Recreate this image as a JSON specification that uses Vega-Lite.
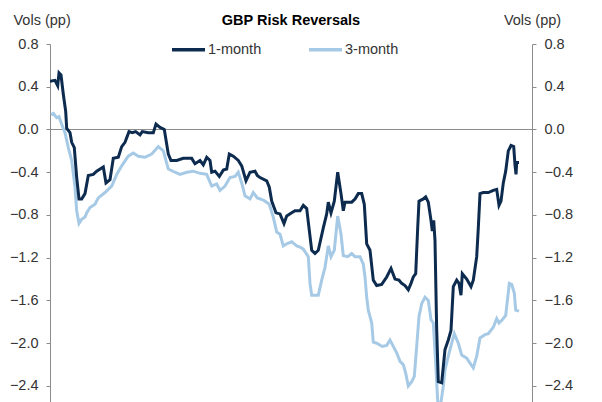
{
  "$schema": "https://vega.github.io/schema/vega-lite/v6.json",
  "autosize": {"type": "none"},
  "width": 482,
  "height": 358,
  "padding": {"left": 50, "top": 44, "right": 70, "bottom": 0},
  "background": "white",
  "title": {
    "text": "GBP Risk Reversals",
    "frame": "group",
    "anchor": "middle",
    "font": "Liberation Sans",
    "fontSize": 14.5,
    "fontWeight": "bold",
    "color": "#000000",
    "baseline": "middle",
    "offset": 0,
    "dy": 23
  },
  "config": {
    "font": "Liberation Sans",
    "view": {"stroke": null},
    "axis": {
      "labelFont": "Liberation Sans",
      "labelFontSize": 14.5,
      "labelColor": "#333333",
      "domainColor": "#8c8c8c",
      "tickColor": "#8c8c8c",
      "tickSize": 4,
      "labelPadding": 8,
      "grid": false,
      "titleFont": "Liberation Sans",
      "titleFontSize": 14.5,
      "titleFontWeight": "normal",
      "titleColor": "#333333",
      "titleAngle": 0,
      "titleBaseline": "middle"
    }
  },
  "data": {
    "values": [
      {"t": 0, "s": "1-month", "v": 0.45}, {"t": 5, "s": "1-month", "v": 0.46}, {"t": 7.7, "s": "1-month", "v": 0.41},
      {"t": 9, "s": "1-month", "v": 0.53}, {"t": 11, "s": "1-month", "v": 0.51}, {"t": 13.3, "s": "1-month", "v": 0.33},
      {"t": 15.7, "s": "1-month", "v": 0.17}, {"t": 16.7, "s": "1-month", "v": 0.01}, {"t": 20, "s": "1-month", "v": -0.03},
      {"t": 21.7, "s": "1-month", "v": -0.12}, {"t": 24.3, "s": "1-month", "v": -0.17}, {"t": 26.7, "s": "1-month", "v": -0.45},
      {"t": 29, "s": "1-month", "v": -0.65}, {"t": 31.7, "s": "1-month", "v": -0.65}, {"t": 35, "s": "1-month", "v": -0.6},
      {"t": 38.3, "s": "1-month", "v": -0.43}, {"t": 43.3, "s": "1-month", "v": -0.42}, {"t": 46.7, "s": "1-month", "v": -0.39},
      {"t": 53.3, "s": "1-month", "v": -0.35}, {"t": 56, "s": "1-month", "v": -0.5}, {"t": 60, "s": "1-month", "v": -0.47},
      {"t": 63.3, "s": "1-month", "v": -0.27}, {"t": 68.3, "s": "1-month", "v": -0.26}, {"t": 71.7, "s": "1-month", "v": -0.16},
      {"t": 75, "s": "1-month", "v": -0.12}, {"t": 79, "s": "1-month", "v": -0.02}, {"t": 82.3, "s": "1-month", "v": -0.03},
      {"t": 85.7, "s": "1-month", "v": -0.02}, {"t": 90, "s": "1-month", "v": -0.05}, {"t": 92.3, "s": "1-month", "v": -0.02},
      {"t": 98.3, "s": "1-month", "v": -0.03}, {"t": 103.3, "s": "1-month", "v": -0.03}, {"t": 106, "s": "1-month", "v": 0.05},
      {"t": 110, "s": "1-month", "v": 0.02}, {"t": 114.3, "s": "1-month", "v": 0.0}, {"t": 118.3, "s": "1-month", "v": -0.23},
      {"t": 121, "s": "1-month", "v": -0.29}, {"t": 126.7, "s": "1-month", "v": -0.29}, {"t": 133.3, "s": "1-month", "v": -0.27},
      {"t": 141.7, "s": "1-month", "v": -0.27}, {"t": 145, "s": "1-month", "v": -0.32}, {"t": 150, "s": "1-month", "v": -0.29},
      {"t": 153.3, "s": "1-month", "v": -0.33}, {"t": 156.7, "s": "1-month", "v": -0.26}, {"t": 160, "s": "1-month", "v": -0.29},
      {"t": 161.7, "s": "1-month", "v": -0.4}, {"t": 165, "s": "1-month", "v": -0.39}, {"t": 169.3, "s": "1-month", "v": -0.44},
      {"t": 173.3, "s": "1-month", "v": -0.38}, {"t": 176.7, "s": "1-month", "v": -0.37}, {"t": 179.3, "s": "1-month", "v": -0.23},
      {"t": 183.3, "s": "1-month", "v": -0.25}, {"t": 188.3, "s": "1-month", "v": -0.29}, {"t": 191.7, "s": "1-month", "v": -0.34},
      {"t": 196, "s": "1-month", "v": -0.48}, {"t": 200, "s": "1-month", "v": -0.4}, {"t": 205, "s": "1-month", "v": -0.39},
      {"t": 207.3, "s": "1-month", "v": -0.43}, {"t": 210, "s": "1-month", "v": -0.45}, {"t": 216.7, "s": "1-month", "v": -0.48},
      {"t": 219.3, "s": "1-month", "v": -0.54}, {"t": 221.7, "s": "1-month", "v": -0.67}, {"t": 226, "s": "1-month", "v": -0.78},
      {"t": 230, "s": "1-month", "v": -0.79}, {"t": 234, "s": "1-month", "v": -0.88}, {"t": 236.7, "s": "1-month", "v": -0.81},
      {"t": 241.7, "s": "1-month", "v": -0.78}, {"t": 245, "s": "1-month", "v": -0.76}, {"t": 250, "s": "1-month", "v": -0.76},
      {"t": 253.3, "s": "1-month", "v": -0.71}, {"t": 256.7, "s": "1-month", "v": -0.74}, {"t": 259, "s": "1-month", "v": -0.92},
      {"t": 261.7, "s": "1-month", "v": -1.13}, {"t": 265, "s": "1-month", "v": -1.16}, {"t": 268.3, "s": "1-month", "v": -1.13},
      {"t": 273.3, "s": "1-month", "v": -0.92}, {"t": 276.7, "s": "1-month", "v": -0.79}, {"t": 278.3, "s": "1-month", "v": -0.68},
      {"t": 281, "s": "1-month", "v": -0.78}, {"t": 284.3, "s": "1-month", "v": -0.67}, {"t": 287.7, "s": "1-month", "v": -0.4},
      {"t": 291, "s": "1-month", "v": -0.6}, {"t": 293.3, "s": "1-month", "v": -0.76}, {"t": 295, "s": "1-month", "v": -0.68},
      {"t": 301.7, "s": "1-month", "v": -0.68}, {"t": 305, "s": "1-month", "v": -0.65}, {"t": 308.3, "s": "1-month", "v": -0.6},
      {"t": 311.7, "s": "1-month", "v": -0.6}, {"t": 314.3, "s": "1-month", "v": -0.7}, {"t": 316.7, "s": "1-month", "v": -1.07},
      {"t": 320, "s": "1-month", "v": -1.13}, {"t": 323.3, "s": "1-month", "v": -1.41}, {"t": 326.7, "s": "1-month", "v": -1.46},
      {"t": 331.7, "s": "1-month", "v": -1.45}, {"t": 336.7, "s": "1-month", "v": -1.38}, {"t": 341, "s": "1-month", "v": -1.3},
      {"t": 345, "s": "1-month", "v": -1.4}, {"t": 349, "s": "1-month", "v": -1.41}, {"t": 351.7, "s": "1-month", "v": -1.44},
      {"t": 355, "s": "1-month", "v": -1.46}, {"t": 358.3, "s": "1-month", "v": -1.5}, {"t": 361, "s": "1-month", "v": -1.44},
      {"t": 363.3, "s": "1-month", "v": -1.38}, {"t": 365.7, "s": "1-month", "v": -1.35}, {"t": 367.7, "s": "1-month", "v": -0.92},
      {"t": 369, "s": "1-month", "v": -0.67}, {"t": 373.3, "s": "1-month", "v": -0.65}, {"t": 375.7, "s": "1-month", "v": -0.63},
      {"t": 378.3, "s": "1-month", "v": -0.68}, {"t": 381, "s": "1-month", "v": -0.85}, {"t": 382.3, "s": "1-month", "v": -0.95},
      {"t": 383.7, "s": "1-month", "v": -0.85}, {"t": 385, "s": "1-month", "v": -1.04}, {"t": 386.7, "s": "1-month", "v": -1.88},
      {"t": 388.3, "s": "1-month", "v": -2.36}, {"t": 391.7, "s": "1-month", "v": -2.37}, {"t": 395, "s": "1-month", "v": -2.06},
      {"t": 398.3, "s": "1-month", "v": -1.97}, {"t": 401, "s": "1-month", "v": -1.88}, {"t": 403.3, "s": "1-month", "v": -1.47},
      {"t": 406.7, "s": "1-month", "v": -1.41}, {"t": 409, "s": "1-month", "v": -1.44}, {"t": 411, "s": "1-month", "v": -1.55},
      {"t": 412.3, "s": "1-month", "v": -1.35}, {"t": 416.7, "s": "1-month", "v": -1.4}, {"t": 421, "s": "1-month", "v": -1.47},
      {"t": 423.3, "s": "1-month", "v": -1.41}, {"t": 426.7, "s": "1-month", "v": -1.19}, {"t": 428.3, "s": "1-month", "v": -0.92},
      {"t": 430, "s": "1-month", "v": -0.6}, {"t": 433.3, "s": "1-month", "v": -0.59}, {"t": 438.3, "s": "1-month", "v": -0.59},
      {"t": 443.3, "s": "1-month", "v": -0.57}, {"t": 446.7, "s": "1-month", "v": -0.56}, {"t": 449, "s": "1-month", "v": -0.71},
      {"t": 451, "s": "1-month", "v": -0.67}, {"t": 453.3, "s": "1-month", "v": -0.5}, {"t": 455.7, "s": "1-month", "v": -0.39},
      {"t": 458.3, "s": "1-month", "v": -0.2}, {"t": 461, "s": "1-month", "v": -0.15}, {"t": 463.7, "s": "1-month", "v": -0.16},
      {"t": 465, "s": "1-month", "v": -0.33}, {"t": 466, "s": "1-month", "v": -0.42}, {"t": 466.7, "s": "1-month", "v": -0.31},
      {"t": 469, "s": "1-month", "v": -0.31},

      {"t": 1, "s": "3-month", "v": 0.14}, {"t": 3.3, "s": "3-month", "v": 0.15}, {"t": 6.7, "s": "3-month", "v": 0.11},
      {"t": 9, "s": "3-month", "v": 0.12}, {"t": 11.7, "s": "3-month", "v": 0.05}, {"t": 15, "s": "3-month", "v": -0.03},
      {"t": 18.3, "s": "3-month", "v": -0.17}, {"t": 21.7, "s": "3-month", "v": -0.29}, {"t": 25, "s": "3-month", "v": -0.54},
      {"t": 26.7, "s": "3-month", "v": -0.76}, {"t": 29, "s": "3-month", "v": -0.88}, {"t": 31.7, "s": "3-month", "v": -0.84},
      {"t": 35, "s": "3-month", "v": -0.82}, {"t": 36.7, "s": "3-month", "v": -0.78}, {"t": 40, "s": "3-month", "v": -0.73},
      {"t": 45, "s": "3-month", "v": -0.7}, {"t": 48.3, "s": "3-month", "v": -0.64}, {"t": 55, "s": "3-month", "v": -0.59},
      {"t": 61.7, "s": "3-month", "v": -0.53}, {"t": 66.7, "s": "3-month", "v": -0.42}, {"t": 71.7, "s": "3-month", "v": -0.34},
      {"t": 78.3, "s": "3-month", "v": -0.25}, {"t": 83.3, "s": "3-month", "v": -0.22}, {"t": 88.3, "s": "3-month", "v": -0.25},
      {"t": 95, "s": "3-month", "v": -0.26}, {"t": 101.7, "s": "3-month", "v": -0.23}, {"t": 108.3, "s": "3-month", "v": -0.16},
      {"t": 113.3, "s": "3-month", "v": -0.2}, {"t": 118.3, "s": "3-month", "v": -0.37}, {"t": 125, "s": "3-month", "v": -0.4},
      {"t": 130, "s": "3-month", "v": -0.42}, {"t": 136.7, "s": "3-month", "v": -0.4}, {"t": 143.3, "s": "3-month", "v": -0.39},
      {"t": 150, "s": "3-month", "v": -0.41}, {"t": 156.7, "s": "3-month", "v": -0.42}, {"t": 161.7, "s": "3-month", "v": -0.53},
      {"t": 166.7, "s": "3-month", "v": -0.51}, {"t": 170, "s": "3-month", "v": -0.57}, {"t": 175, "s": "3-month", "v": -0.53},
      {"t": 180, "s": "3-month", "v": -0.45}, {"t": 185, "s": "3-month", "v": -0.44}, {"t": 188.3, "s": "3-month", "v": -0.4},
      {"t": 191.7, "s": "3-month", "v": -0.5}, {"t": 195, "s": "3-month", "v": -0.62}, {"t": 200, "s": "3-month", "v": -0.65},
      {"t": 203.3, "s": "3-month", "v": -0.59}, {"t": 207.3, "s": "3-month", "v": -0.64}, {"t": 213.3, "s": "3-month", "v": -0.66},
      {"t": 219.3, "s": "3-month", "v": -0.7}, {"t": 223.3, "s": "3-month", "v": -0.82}, {"t": 226.7, "s": "3-month", "v": -0.96},
      {"t": 230, "s": "3-month", "v": -0.98}, {"t": 233.3, "s": "3-month", "v": -1.09}, {"t": 236.7, "s": "3-month", "v": -1.07},
      {"t": 241.7, "s": "3-month", "v": -1.05}, {"t": 246.7, "s": "3-month", "v": -1.09}, {"t": 250, "s": "3-month", "v": -1.1},
      {"t": 253.3, "s": "3-month", "v": -1.12}, {"t": 258.3, "s": "3-month", "v": -1.19}, {"t": 260, "s": "3-month", "v": -1.44},
      {"t": 261.7, "s": "3-month", "v": -1.55}, {"t": 268.3, "s": "3-month", "v": -1.55}, {"t": 271.7, "s": "3-month", "v": -1.41},
      {"t": 275, "s": "3-month", "v": -1.29}, {"t": 278.3, "s": "3-month", "v": -1.09}, {"t": 281, "s": "3-month", "v": -1.19},
      {"t": 284.3, "s": "3-month", "v": -1.13}, {"t": 287.7, "s": "3-month", "v": -0.81}, {"t": 291, "s": "3-month", "v": -0.98},
      {"t": 293.3, "s": "3-month", "v": -1.18}, {"t": 297.7, "s": "3-month", "v": -1.19}, {"t": 301.7, "s": "3-month", "v": -1.16},
      {"t": 305, "s": "3-month", "v": -1.19}, {"t": 310, "s": "3-month", "v": -1.19}, {"t": 313.3, "s": "3-month", "v": -1.26},
      {"t": 315, "s": "3-month", "v": -1.38}, {"t": 316.7, "s": "3-month", "v": -1.57}, {"t": 318.3, "s": "3-month", "v": -1.69},
      {"t": 321.7, "s": "3-month", "v": -1.81}, {"t": 323.3, "s": "3-month", "v": -1.99}, {"t": 326.7, "s": "3-month", "v": -2.0},
      {"t": 332.3, "s": "3-month", "v": -2.03}, {"t": 336.7, "s": "3-month", "v": -2.02}, {"t": 340, "s": "3-month", "v": -1.97},
      {"t": 343.3, "s": "3-month", "v": -2.03}, {"t": 346.7, "s": "3-month", "v": -2.09}, {"t": 350, "s": "3-month", "v": -2.17},
      {"t": 353.3, "s": "3-month", "v": -2.2}, {"t": 355.7, "s": "3-month", "v": -2.28}, {"t": 358.3, "s": "3-month", "v": -2.4},
      {"t": 361.7, "s": "3-month", "v": -2.36}, {"t": 364.3, "s": "3-month", "v": -2.31}, {"t": 366.7, "s": "3-month", "v": -2.03},
      {"t": 369, "s": "3-month", "v": -1.75}, {"t": 371.7, "s": "3-month", "v": -1.63}, {"t": 375, "s": "3-month", "v": -1.57},
      {"t": 378.3, "s": "3-month", "v": -1.6}, {"t": 381, "s": "3-month", "v": -1.78}, {"t": 383.3, "s": "3-month", "v": -1.81},
      {"t": 385.7, "s": "3-month", "v": -2.19}, {"t": 387.7, "s": "3-month", "v": -2.54}, {"t": 390, "s": "3-month", "v": -2.62},
      {"t": 393.3, "s": "3-month", "v": -2.4}, {"t": 395, "s": "3-month", "v": -2.25}, {"t": 398.3, "s": "3-month", "v": -2.12},
      {"t": 401.7, "s": "3-month", "v": -2.0}, {"t": 404.3, "s": "3-month", "v": -1.91}, {"t": 408.3, "s": "3-month", "v": -2.0},
      {"t": 411.7, "s": "3-month", "v": -2.11}, {"t": 416.7, "s": "3-month", "v": -2.14}, {"t": 421, "s": "3-month", "v": -2.2},
      {"t": 423.3, "s": "3-month", "v": -2.23}, {"t": 426.7, "s": "3-month", "v": -2.12}, {"t": 430, "s": "3-month", "v": -1.95},
      {"t": 435, "s": "3-month", "v": -1.92}, {"t": 438.3, "s": "3-month", "v": -1.91}, {"t": 443.3, "s": "3-month", "v": -1.85},
      {"t": 446.7, "s": "3-month", "v": -1.77}, {"t": 449, "s": "3-month", "v": -1.81}, {"t": 452.3, "s": "3-month", "v": -1.78},
      {"t": 455.7, "s": "3-month", "v": -1.74}, {"t": 459.3, "s": "3-month", "v": -1.44}, {"t": 461.7, "s": "3-month", "v": -1.45},
      {"t": 464.3, "s": "3-month", "v": -1.53}, {"t": 465.7, "s": "3-month", "v": -1.69}, {"t": 469, "s": "3-month", "v": -1.7}
    ]
  },
  "layer": [
    {
      "data": {"values": [{"z": 0}]},
      "mark": {"type": "rule", "color": "#8c8c8c", "strokeWidth": 1},
      "encoding": {
        "y": {
          "field": "z", "type": "quantitative",
          "scale": {"domain": [-2.55, 0.8], "nice": false, "zero": false},
          "axis": {
            "orient": "right",
            "values": [0.8, 0.4, 0, -0.4, -0.8, -1.2, -1.6, -2.0, -2.4],
            "format": ".1f",
            "title": "Vols (pp)",
            "titleAlign": "center",
            "titleX": 0,
            "titleY": -24
          }
        }
      }
    },
    {
      "transform": [{"filter": "datum.s == '3-month'"}],
      "mark": {"type": "line", "strokeWidth": 3, "clip": true, "interpolate": "linear"},
      "encoding": {
        "x": {"field": "t", "type": "quantitative", "scale": {"domain": [0, 482], "nice": false, "zero": false}, "axis": null},
        "y": {"field": "v", "type": "quantitative", "scale": {"domain": [-2.55, 0.8], "nice": false, "zero": false}, "axis": null},
        "color": {
          "field": "s", "type": "nominal",
          "scale": {"domain": ["1-month", "3-month"], "range": ["#0d2b4e", "#a6cae6"]},
          "legend": {
            "title": null,
            "orient": "none",
            "direction": "horizontal",
            "legendX": 120,
            "legendY": -13,
            "symbolType": "stroke",
            "symbolSize": 1089,
            "symbolStrokeWidth": 3.5,
            "labelOffset": 1,
            "labelFont": "Liberation Sans",
            "labelFontSize": 14.5,
            "labelColor": "#333333",
            "columnPadding": 40
          }
        }
      }
    },
    {
      "transform": [{"filter": "datum.s == '1-month'"}],
      "mark": {"type": "line", "strokeWidth": 3, "clip": true, "interpolate": "linear"},
      "encoding": {
        "x": {"field": "t", "type": "quantitative", "scale": {"domain": [0, 482], "nice": false, "zero": false}, "axis": null},
        "y": {"field": "v", "type": "quantitative", "scale": {"domain": [-2.55, 0.8], "nice": false, "zero": false}, "axis": null},
        "color": {"field": "s", "type": "nominal"}
      }
    },
    {
      "data": {"values": [{"z": 0}]},
      "mark": {"type": "point", "opacity": 0},
      "encoding": {
        "y": {
          "field": "z", "type": "quantitative",
          "scale": {"domain": [-2.55, 0.8], "nice": false, "zero": false},
          "axis": {
            "orient": "left",
            "values": [0.8, 0.4, 0, -0.4, -0.8, -1.2, -1.6, -2.0, -2.4],
            "format": ".1f",
            "title": "Vols (pp)",
            "titleAlign": "left",
            "titleX": -37,
            "titleY": -24
          }
        }
      }
    }
  ],
  "resolve": {"axis": {"y": "independent"}}
}
